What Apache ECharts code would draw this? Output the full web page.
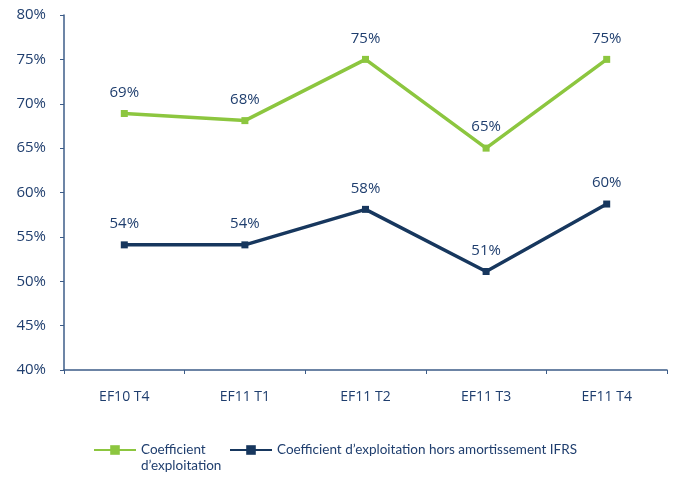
<!DOCTYPE html>
<html>
<head>
<meta charset="utf-8">
<script src="https://cdn.jsdelivr.net/npm/echarts@6/dist/echarts.min.js"></script>
<style>
html,body{margin:0;padding:0;background:#fff;}
#chart{width:689px;height:479px;}
</style>
</head>
<body>
<div id="chart"></div>
<script>
var categories = ['EF10 T4', 'EF11 T1', 'EF11 T2', 'EF11 T3', 'EF11 T4'];
var greenName = 'Coefficient';
var greenNameLine2 = 'd\u2019exploitation';
var navyName = 'Coefficient d\u2019exploitation hors amortissement IFRS';
var greenValues = [68.9, 68.1, 75.0, 65.0, 75.0];
var greenLabels = ['69%', '68%', '75%', '65%', '75%'];
var navyValues = [54.1, 54.1, 58.1, 51.1, 58.7];
var navyLabels = ['54%', '54%', '58%', '51%', '60%'];
var yMin = 40, yMax = 80, yStep = 5;

var FONT = 'Open Sans';
var LFONT = 'Lato';
var TXT = '#1f3e6e';
var AXIS = '#3d5c88';
var GREEN = '#8cc63f';
var NAVY = '#17375e';

var chart = echarts.init(document.getElementById('chart'));
chart.setOption({
  animation: false,
  backgroundColor: '#ffffff',
  textStyle: { fontFamily: FONT },
  grid: { left: 64, right: 22, top: 15, bottom: 109 },
  legend: [
    {
      left: 88, top: 437, itemWidth: 42, itemHeight: 12,
      data: [greenName],
      textStyle: { color: TXT, fontSize: 13.5, fontFamily: LFONT, lineHeight: 16 }
    },
    {
      left: 224, top: 437, itemWidth: 42, itemHeight: 12,
      data: [navyName],
      textStyle: { color: TXT, fontSize: 13.5, fontFamily: LFONT, lineHeight: 16 }
    }
  ],
  graphic: [
    {
      type: 'text', left: 141, top: 459,
      style: { text: greenNameLine2, fill: TXT, fontSize: 13.5, fontFamily: LFONT }
    }
  ],
  xAxis: {
    type: 'category',
    data: categories,
    boundaryGap: true,
    axisLine: { lineStyle: { color: AXIS, width: 1.5 } },
    axisTick: { show: true, length: 4, alignWithLabel: false, lineStyle: { color: AXIS } },
    axisLabel: { color: TXT, fontSize: 14, margin: 20, fontFamily: FONT },
    splitLine: { show: false }
  },
  yAxis: {
    type: 'value',
    min: yMin, max: yMax, interval: yStep,
    axisLine: { show: true, lineStyle: { color: AXIS, width: 1.5 } },
    axisTick: { show: true, length: 4, lineStyle: { color: AXIS } },
    axisLabel: { color: TXT, fontSize: 15, margin: 18, fontFamily: FONT,
      formatter: function (v) { return v + '%'; } },
    splitLine: { show: false }
  },
  series: [
    {
      name: greenName,
      type: 'line',
      data: greenValues,
      symbol: 'rect', symbolSize: 7,
      lineStyle: { color: GREEN, width: 3.5 },
      itemStyle: { color: GREEN },
      label: { show: true, position: 'top', distance: 10, color: TXT, fontSize: 15, fontFamily: FONT,
        formatter: function (p) { return greenLabels[p.dataIndex]; } }
    },
    {
      name: navyName,
      type: 'line',
      data: navyValues,
      symbol: 'rect', symbolSize: 7,
      lineStyle: { color: NAVY, width: 3.5 },
      itemStyle: { color: NAVY },
      label: { show: true, position: 'top', distance: 10, color: TXT, fontSize: 15, fontFamily: FONT,
        formatter: function (p) { return navyLabels[p.dataIndex]; } }
    }
  ]
});
</script>
</body>
</html>
